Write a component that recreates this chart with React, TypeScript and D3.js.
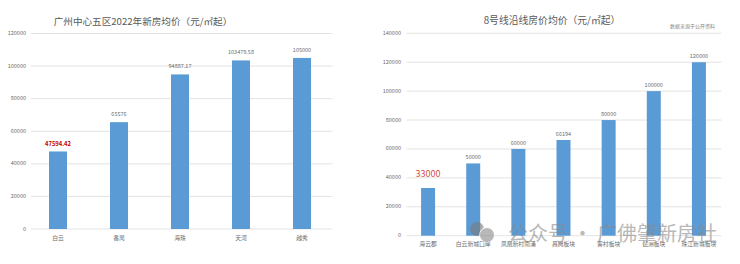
import React from "react";
import * as d3 from "d3";

const leftTitle = "广州中心五区2022年新房均价（元/㎡起）";
const leftCategories = ["白云", "番禺", "海珠", "天河", "越秀"];
const leftValues = [47594.42, 65576, 94887.17, 103479.58, 105000];
const leftLabels = ["47594.42", "65576", "94887.17", "103479.58", "105000"];
const leftTicks = [0, 20000, 40000, 60000, 80000, 100000, 120000];

const rightTitle = "8号线沿线房价均价（元/㎡起）";
const rightSource = "数据来源于公开资料";
const rightCategories = ["海云郡", "白云新城口岸", "凤凰新村南涌", "昌岗板块", "客村板块", "琶洲板块", "珠江新城板块"];
const rightValues = [33000, 50000, 60000, 66194, 80000, 100000, 120000];
const rightLabels = ["33000", "50000", "60000", "66194", "80000", "100000", "120000"];
const rightTicks = [0, 20000, 40000, 60000, 80000, 100000, 120000, 140000];

const watermark = "公众号 · 广佛肇新房社";

const FONT = "'Noto Sans CJK SC', 'Noto Sans', sans-serif";
const BAR = "#5b9bd5";
const GRID = "#dcdcdc";
const TXT = "#6b6b6b";

function Chart(props: {
  categories: string[];
  values: number[];
  labels: string[];
  ticks: number[];
  max: number;
  x0: number;
  x1: number;
  gx0: number;
  y0: number;
  y1: number;
  tickX: number;
  pad: number;
  labelOffset: number;
  highlight: { fill: string; size: number; weight: number; offset: number };
  xLabelY: number;
}) {
  const { categories, values, labels, ticks, max, x0, x1, gx0, y0, y1, tickX, pad, labelOffset, highlight, xLabelY } = props;
  const x = d3.scaleBand<string>().domain(categories).range([x0, x1]).paddingInner(pad).paddingOuter(pad / 2);
  const y = d3.scaleLinear().domain([0, max]).range([y0, y1]);
  return (
    <g>
      {ticks.map((t) => (
        <g key={t}>
          <line x1={gx0} x2={x1} y1={y(t)} y2={y(t)} stroke={GRID} strokeWidth={0.8} />
          <text x={tickX} y={y(t)} textAnchor="end" dominantBaseline="middle" fontSize={5.5} fill={TXT}>
            {t}
          </text>
        </g>
      ))}
      {categories.map((c, i) => {
        const bx = x(c) as number;
        const top = y(values[i]);
        const isHi = i === 0;
        return (
          <g key={c}>
            <rect x={bx} y={top} width={x.bandwidth()} height={y(0) - top} fill={BAR} />
            <text
              x={bx + x.bandwidth() / 2}
              y={top - (isHi ? highlight.offset : labelOffset)}
              textAnchor="middle"
              dominantBaseline="middle"
              fontSize={isHi ? highlight.size : 5.5}
              fontWeight={isHi ? highlight.weight : 400}
              fill={isHi ? highlight.fill : TXT}
            >
              {labels[i]}
            </text>
            <text x={bx + x.bandwidth() / 2} y={xLabelY} textAnchor="middle" dominantBaseline="middle" fontSize={5.8} fill={TXT}>
              {c}
            </text>
          </g>
        );
      })}
    </g>
  );
}

export default function App() {
  return (
    <svg width={740} height={264} style={{ position: "absolute", left: 0, top: 0, background: "#fff" }} fontFamily={FONT}>
      <rect x={0} y={0} width={740} height={264} fill="#fff" />
      <text x={143} y={22} textAnchor="middle" dominantBaseline="middle" fontSize={9.6} fill="#595959">
        {leftTitle}
      </text>
      <Chart
        categories={leftCategories}
        values={leftValues}
        labels={leftLabels}
        ticks={leftTicks}
        max={120000}
        x0={27.5}
        x1={332.5}
        gx0={31}
        y0={229}
        y1={33.5}
        tickX={26}
        pad={0.705}
        labelOffset={7.5}
        highlight={{ fill: "#c00000", size: 5.8, weight: 700, offset: 7.3 }}
        xLabelY={238}
      />
      <text x={552} y={21} textAnchor="middle" dominantBaseline="middle" fontSize={9.8} fill="#595959">
        {rightTitle}
      </text>
      <text x={715} y={27} textAnchor="end" dominantBaseline="middle" fontSize={5} fill="#8a8a8a">
        {rightSource}
      </text>
      <Chart
        categories={rightCategories}
        values={rightValues}
        labels={rightLabels}
        ticks={rightTicks}
        max={140000}
        x0={405.5}
        x1={721.5}
        gx0={406.5}
        y0={235.7}
        y1={33.3}
        tickX={401}
        pad={0.69}
        labelOffset={5.5}
        highlight={{ fill: "#d0504a", size: 9, weight: 400, offset: 13 }}
        xLabelY={244}
      />
      <g opacity={0.6}>
        <circle cx={477} cy={229} r={7} fill="#7a7a7a" />
        <circle cx={487} cy={235} r={7.5} fill="#8a8a8a" stroke="#fff" strokeWidth={1} />
        <text x={508} y={236} dominantBaseline="middle" fontSize={20} fill="#8a8a8a">
          {watermark}
        </text>
      </g>
    </svg>
  );
}
